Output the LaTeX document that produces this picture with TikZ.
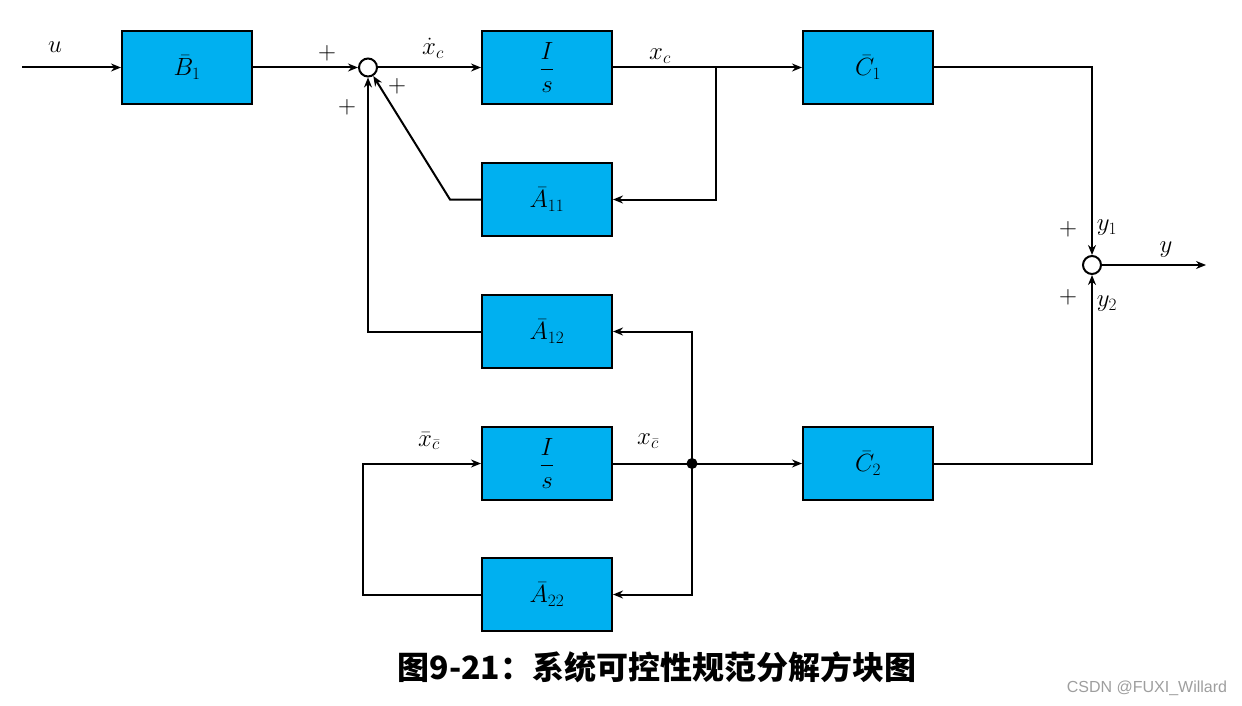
\documentclass[tikz,border=0pt]{standalone}
\usepackage{fontspec}
\newfontfamily\cjk{Noto Sans CJK SC}
\newfontfamily\wm{Liberation Sans}
\usetikzlibrary{arrows.meta}
\definecolor{boxblue}{HTML}{00B0F0}
\begin{document}
\begin{tikzpicture}[x=1pt,y=-1pt, line width=2pt, >={Stealth[length=10pt,width=8pt]},
 blk/.style={draw, fill=boxblue, minimum width=130pt, minimum height=73pt, inner sep=0pt, font=\fontsize{24}{28}\selectfont},
 sumj/.style={draw, circle, fill=white, minimum size=18pt, inner sep=0pt},
 lbl/.style={font=\fontsize{24}{28}\selectfont, inner sep=0pt}]
\useasboundingbox (0,0) rectangle (1242,706);
% blocks
\node[blk] (b1)  at (187,67.5)  {$\bar{B}_1$};
\node[blk] (is1) at (547,67.5)  {$\displaystyle\frac{I}{s}$};
\node[blk] (c1)  at (868,67.5)  {$\bar{C}_1$};
\node[blk] (a11) at (547,199.5) {$\bar{A}_{11}$};
\node[blk] (a12) at (547,331.5) {$\bar{A}_{12}$};
\node[blk] (is2) at (547,463.5) {$\displaystyle\frac{I}{s}$};
\node[blk] (c2)  at (868,463.5) {$\bar{C}_2$};
\node[blk] (a22) at (547,594.5) {$\bar{A}_{22}$};
% junctions
\node[sumj] (s1) at (368,67.5) {};
\node[sumj] (s2) at (1092,265) {};
\coordinate (in) at (22,67.5);
\coordinate (out) at (1206,265);
\coordinate (br1) at (716,67.5);
\coordinate (k11) at (450,199.5);
\coordinate (dot) at (692,463.5);
\fill (dot) circle (5.5pt);
% connectors
\draw[->] (in) -- (b1.west);
\draw[->] (b1.east) -- (s1.west);
\draw[->] (s1.east) -- (is1.west);
\draw[->] (is1.east) -- (c1.west);
\draw[->] (br1) |- (a11.east);
\draw[->] (a11.west) -- (k11) -- (s1);
\draw[->] (a12.west) -| (s1.south);
\draw[->] (c1.east) -| (s2.north);
\draw[->] (s2.east) -- (out);
\draw[->] (c2.east) -| (s2.south);
\draw[->] (is2.east) -- (c2.west);
\draw[->] (dot) |- (a12.east);
\draw[->] (dot) |- (a22.east);
\draw[->] (a22.west) -- ++(-118,0) |- (is2.west);
% labels
\node[lbl] (lu) at (55,47) {$u$};
\node[lbl] (p1) at (327,53) {$+$};
\node[lbl] (lxd) at (433,48) {$\dot{x}_c$};
\node[lbl] (p2) at (397,86) {$+$};
\node[lbl] (p3) at (347,107) {$+$};
\node[lbl] (lxc) at (660,56) {$x_c$};
\node[lbl] (p4) at (1068,229) {$+$};
\node[lbl] (ly1) at (1107,228) {$y_1$};
\node[lbl] (ly) at (1166,250) {$y$};
\node[lbl] (p5) at (1068,297) {$+$};
\node[lbl] (ly2) at (1107,304) {$y_2$};
\node[lbl] (lxb) at (429,441) {$\bar{x}_{\bar{c}}$};
\node[lbl] (lxcb) at (648,441) {$x_{\bar{c}}$};
% caption
\node[inner sep=0pt] (cap) at (657,667) {\cjk\bfseries\fontsize{32}{36}\selectfont 图9-21：系统可控性规范分解方块图};
\node[inner sep=0pt, text=black!38] (wm) at (1147,688) {\wm\fontsize{16}{18}\selectfont CSDN @FUXI\_Willard};
\end{tikzpicture}
\end{document}
